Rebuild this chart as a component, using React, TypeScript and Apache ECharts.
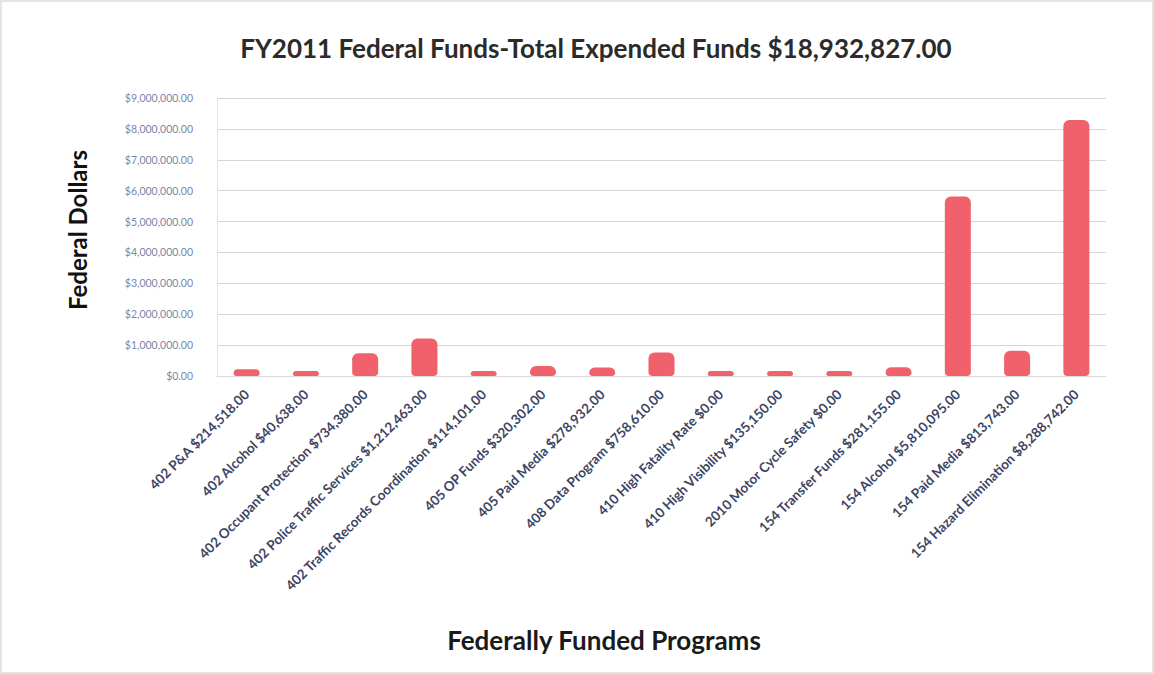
import React, { useEffect, useRef } from "react";
import * as echarts from "echarts";

const categories = [
  "402 P&A $214,518.00",
  "402 Alcohol $40,638.00",
  "402 Occupant Protection $734,380.00",
  "402 Police Traffic Services $1,212,463.00",
  "402 Traffic Records Coordination $114,101.00",
  "405 OP Funds $320,302.00",
  "405 Paid Media $278,932.00",
  "408 Data Program $758,610.00",
  "410 High Fatality Rate $0.00",
  "410 High Visibility $135,150.00",
  "2010 Motor Cycle Safety $0.00",
  "154 Transfer Funds $281,155.00",
  "154 Alcohol $5,810,095.00",
  "154 Paid Media $813,743.00",
  "154 Hazard Elimination $8,288,742.00",
];

const expended = [
  214518, 40638, 734380, 1212463, 114101, 320302, 278932, 758610, 0, 135150, 0,
  281155, 5810095, 813743, 8288742,
];

const yTicks = { min: 0, max: 9000000, interval: 1000000 };

const titleText = "FY2011 Federal Funds-Total Expended Funds $18,932,827.00";
const yTitle = "Federal Dollars";
const xTitle = "Federally Funded Programs";

function fmtDollars(v: number): string {
  return (
    "$" +
    v.toLocaleString("en-US", { minimumFractionDigits: 2, maximumFractionDigits: 2 })
  );
}

export default function App() {
  const ref = useRef<HTMLDivElement>(null);
  useEffect(() => {
    if (!ref.current) return;
    const chart = echarts.init(ref.current, null, { renderer: "svg" });
    chart.setOption({
      animation: false,
      backgroundColor: "#ffffff",
      title: {
        text: titleText,
        left: 589,
        top: 28,
        textAlign: "center",
        textStyle: {
          fontFamily: "Lato",
          fontWeight: "bold",
          fontSize: 26,
          color: "#2b2b2b",
        },
      },
      graphic: [
        {
          type: "text",
          x: 75,
          y: 228,
          rotation: Math.PI / 2,
          style: {
            text: yTitle,
            fontFamily: "Lato",
            fontWeight: "bold",
            fontSize: 24,
            fill: "#111",
            align: "center",
            verticalAlign: "middle",
          },
        },
        {
          type: "text",
          x: 602,
          y: 638,
          style: {
            text: xTitle,
            fontFamily: "Lato",
            fontWeight: "bold",
            fontSize: 26,
            fill: "#1a1a1a",
            align: "center",
            verticalAlign: "middle",
          },
        },
      ],
      grid: { left: 215, right: 46, top: 96, bottom: 296 },
      xAxis: {
        type: "category",
        data: categories,
        axisLine: { show: true, lineStyle: { color: "#d9d9d9" } },
        axisTick: { show: false },
        axisLabel: {
          rotate: 45,
          interval: 0,
          margin: 16,
          fontFamily: "Lato",
          fontWeight: "bold",
          fontSize: 13.5,
          color: "#3c4563",
        },
      },
      yAxis: {
        type: "value",
        min: yTicks.min,
        max: yTicks.max,
        interval: yTicks.interval,
        axisLine: { show: true, lineStyle: { color: "#e2e2e2" } },
        axisTick: { show: false },
        splitLine: { lineStyle: { color: "#d6d6d6", width: 1 } },
        axisLabel: {
          margin: 24,
          fontFamily: "Lato",
          fontSize: 10.5,
          color: "#7a86a8",
          formatter: (v: number) => fmtDollars(v),
        },
      },
      series: [
        {
          type: "bar",
          data: expended,
          barWidth: 26,
          barMinHeight: 5,
          itemStyle: { color: "#f0616c", borderRadius: [6, 6, 4, 4] },
        },
      ],
    });
    return () => chart.dispose();
  }, []);
  return (
    <div
      ref={ref}
      style={{
        position: "fixed",
        left: 0,
        top: 0,
        width: 1154,
        height: 674,
        boxSizing: "border-box",
        border: "2px solid #e4e4e4",
      }}
    />
  );
}
